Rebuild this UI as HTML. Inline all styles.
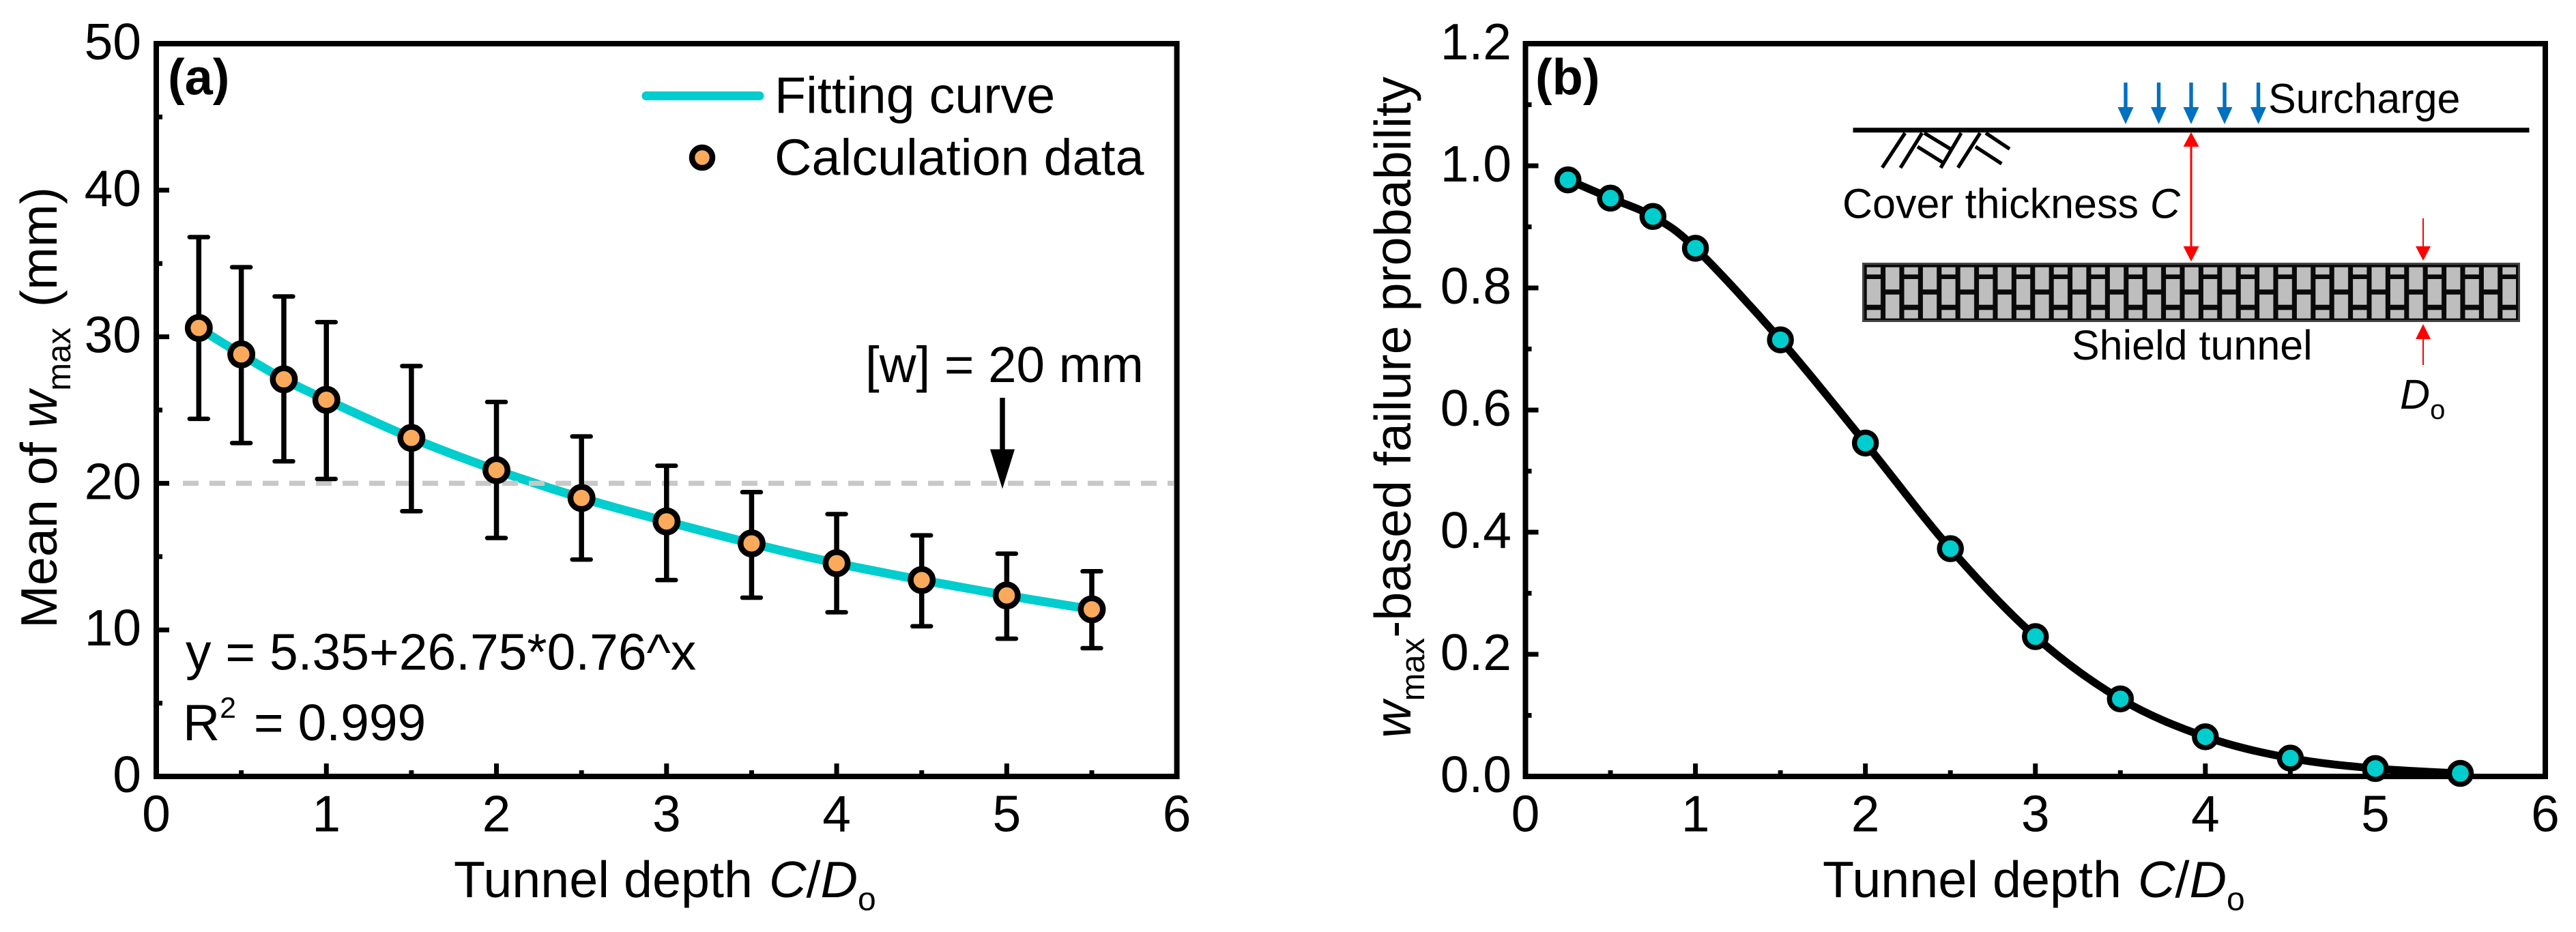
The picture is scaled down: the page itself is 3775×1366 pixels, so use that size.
<!DOCTYPE html>
<html lang="en">
<head>
<meta charset="utf-8">
<title>Tunnel depth charts</title>
<style>
html,body{margin:0;padding:0;background:#fff;}
svg{display:block;}
text{font-family:"Liberation Sans",Arial,sans-serif;font-size:75px;fill:#000;}
</style>
</head>
<body>
<svg id="fig" xmlns="http://www.w3.org/2000/svg" width="3775" height="1366" viewBox="0 0 3775 1366">
  <defs>
    <pattern id="bricks" patternUnits="userSpaceOnUse" x="2735.7" y="0" width="54.8" height="1366">
      <rect x="0" y="391.7" width="20.3" height="10.6" fill="#bebebe"/>
      <rect x="0" y="409" width="20.3" height="37.7" fill="#bebebe"/>
      <rect x="0" y="454.3" width="20.3" height="12.4" fill="#bebebe"/>
      <rect x="27.4" y="391.7" width="20.3" height="32.6" fill="#bebebe"/>
      <rect x="27.4" y="431.7" width="20.3" height="35" fill="#bebebe"/>
    </pattern>
  </defs>
  <rect x="0" y="0" width="3775" height="1366" fill="#fff"/>

  <g id="panel-a"></g>
  <g id="panel-b"></g>

  <!-- Panel a annotations -->
  <text x="246" y="138.5" style="font-size:74px;font-weight:bold">(a)</text>
  <line x1="947" y1="140.5" x2="1113" y2="140.5" stroke="#00cdcd" stroke-width="13" stroke-linecap="round"/>
  <text x="1135" y="165.5" style="font-size:75.5px">Fitting curve</text>
  <circle cx="1029" cy="231" r="15" fill="#faaa5a" stroke="#000" stroke-width="8.5"/>
  <text x="1135" y="256.5" style="font-size:75.5px">Calculation data</text>
  <text x="1268" y="560" style="font-size:74.5px">[w] = 20 mm</text>
  <line x1="1469" y1="583" x2="1469" y2="665" stroke="#000" stroke-width="7.5"/>
  <polygon points="1451,658.5 1487,658.5 1469,716.5" fill="#000"/>
  <text x="272" y="981.5">y = 5.35+26.75*0.76^x</text>
  <text x="268" y="1085">R<tspan dy="-33" style="font-size:43px">2</tspan><tspan dy="33" dx="5"> = 0.999</tspan></text>
  <text x="665" y="1315" style="font-size:75.5px">Tunnel depth <tspan font-style="italic" dx="3">C</tspan>/<tspan font-style="italic">D</tspan><tspan dy="19" style="font-size:48px">o</tspan></text>
  <text transform="translate(83,921) rotate(-90)" style="font-size:75.5px">Mean of <tspan font-style="italic">w</tspan><tspan dy="20" style="font-size:49px">max</tspan><tspan dy="-20" dx="9"> (mm)</tspan></text>

  <!-- Panel b annotations -->
  <text x="2250" y="138.5" style="font-size:74px;font-weight:bold">(b)</text>
  <text x="2671" y="1315" style="font-size:75.5px">Tunnel depth <tspan font-style="italic" dx="3">C</tspan>/<tspan font-style="italic">D</tspan><tspan dy="19" style="font-size:48px">o</tspan></text>
  <text transform="translate(2067,1082) rotate(-90)" style="font-size:75.5px"><tspan font-style="italic">w</tspan><tspan dy="20" style="font-size:49px">max</tspan><tspan dy="-20">-based failure probability</tspan></text>

  <!-- Panel b inset schematic -->
  <g>
    <line x1="2715.5" y1="190.7" x2="3706.5" y2="190.7" stroke="#000" stroke-width="7"/>
    <g stroke="#000" stroke-width="5.3" fill="none">
      <line x1="2791.7" y1="195" x2="2758.3" y2="245.7"/>
      <line x1="2816.7" y1="195" x2="2785" y2="246"/>
      <line x1="2874" y1="195" x2="2844" y2="246"/>
      <line x1="2901.7" y1="195" x2="2869.3" y2="245.7"/>
      <line x1="2820" y1="195" x2="2858.3" y2="218.3"/>
      <line x1="2810" y1="215" x2="2848.3" y2="239"/>
      <line x1="2910" y1="195" x2="2945" y2="218.3"/>
      <line x1="2895" y1="215" x2="2933.3" y2="240"/>
    </g>
    <g fill="#0070c0" stroke="#0070c0">
      <line x1="3115" y1="121" x2="3115" y2="162" stroke-width="5.4"/><polygon points="3103.5,157 3126.5,157 3115,182" stroke="none"/>
      <line x1="3163.5" y1="121" x2="3163.5" y2="162" stroke-width="5.4"/><polygon points="3152,157 3175,157 3163.5,182" stroke="none"/>
      <line x1="3211" y1="121" x2="3211" y2="162" stroke-width="5.4"/><polygon points="3199.5,157 3222.5,157 3211,182" stroke="none"/>
      <line x1="3260" y1="121" x2="3260" y2="162" stroke-width="5.4"/><polygon points="3248.5,157 3271.5,157 3260,182" stroke="none"/>
      <line x1="3309.5" y1="121" x2="3309.5" y2="162" stroke-width="5.4"/><polygon points="3298,157 3321,157 3309.5,182" stroke="none"/>
    </g>
    <text x="3324" y="165.7" style="font-size:61px">Surcharge</text>
    <text x="2700" y="319.7" style="font-size:61px">Cover thickness <tspan font-style="italic">C</tspan></text>
    <g fill="#ff0000" stroke="#ff0000">
      <line x1="3211" y1="205" x2="3211" y2="372" stroke-width="3"/>
      <polygon points="3211,193.8 3222.5,215 3199.5,215" stroke="none"/>
      <polygon points="3211,383.3 3222.5,361 3199.5,361" stroke="none"/>
    </g>
    <rect x="2730.5" y="386.5" width="961" height="84" fill="#0a0a0a" stroke="#444" stroke-width="3"/>
    <rect x="2735" y="391" width="952" height="76" fill="url(#bricks)"/>
    <text x="3036" y="527" style="font-size:61px">Shield tunnel</text>
    <g fill="#ff0000" stroke="#ff0000">
      <line x1="3551" y1="320" x2="3551" y2="370" stroke-width="2"/>
      <polygon points="3551,382 3562,361 3540,361" stroke="none"/>
      <line x1="3551" y1="535" x2="3551" y2="486" stroke-width="2"/>
      <polygon points="3551,475 3562,497 3540,497" stroke="none"/>
    </g>
    <text x="3517" y="599" style="font-size:61px" font-style="italic">D<tspan dy="15" style="font-size:40px;font-style:normal">o</tspan></text>
  </g>
</svg>

<script>
// ---- Panel (a) data ----
var depthValues = [0.25, 0.5, 0.75, 1, 1.5, 2, 2.5, 3, 3.5, 4, 4.5, 5, 5.5];
var meanValues  = [30.6, 28.8, 27.1, 25.7, 23.1, 20.9, 19.0, 17.4, 15.9, 14.55, 13.4, 12.35, 11.4];
var upperValues = [36.8, 34.75, 32.75, 31.0, 28.0, 25.55, 23.2, 21.2, 19.4, 17.9, 16.45, 15.2, 14.0];
var lowerValues = [24.4, 22.75, 21.5, 20.3, 18.1, 16.27, 14.8, 13.4, 12.2, 11.2, 10.25, 9.4, 8.75];
var limitValue = 20;
var xTickLabels = ["0", "1", "2", "3", "4", "5", "6"];
var xMinorTicks = [0.5, 1.5, 2.5, 3.5, 4.5, 5.5];
var yTickLabelsA = ["0", "10", "20", "30", "40", "50"];
var yMinorTicksA = [5, 15, 25, 35, 45];

// ---- Panel (b) data ----
var probabilityValues = [0.977, 0.947, 0.917, 0.865, 0.715, 0.546, 0.373, 0.229, 0.127, 0.065, 0.030, 0.013, 0.005];
var yTickLabelsB = ["0.0", "0.2", "0.4", "0.6", "0.8", "1.0", "1.2"];
var yMinorTicksB = [0.1, 0.3, 0.5, 0.7, 0.9, 1.1];

var NS = 'http://www.w3.org/2000/svg';
var TOP = 64, BOTTOM = 1138;

function node(tag, parent) {
  var el = document.createElementNS(NS, tag);
  parent.appendChild(el);
  return el;
}
function attrs(el, map) {
  for (var k in map) { el.setAttribute(k, map[k]); }
}
function axisX(left, right, max) {
  return function (v) { return left + (right - left) * v / max; };
}
function axisY(max) {
  return function (v) { return BOTTOM - (BOTTOM - TOP) * v / max; };
}
function smoothPath(xs, ys) {
  var d = 'M' + xs[0] + ' ' + ys[0];
  for (var i = 0; i < xs.length - 1; i++) {
    var p0 = Math.max(i - 1, 0), p3 = Math.min(i + 2, xs.length - 1);
    var c1x = xs[i] + (xs[i + 1] - xs[p0]) / 6, c1y = ys[i] + (ys[i + 1] - ys[p0]) / 6;
    var c2x = xs[i + 1] - (xs[p3] - xs[i]) / 6, c2y = ys[i + 1] - (ys[p3] - ys[i]) / 6;
    d += 'C' + c1x + ' ' + c1y + ' ' + c2x + ' ' + c2y + ' ' + xs[i + 1] + ' ' + ys[i + 1];
  }
  return d;
}
function drawFrame(g, left, right, sx, sy, yLabels, yStep, yMinor, labelRight) {
  var i, el;
  for (i = 0; i < yLabels.length; i++) {
    var val = i * yStep;
    if (i > 0 && i < yLabels.length - 1) {
      el = node('line', g);
      
      
      attrs(el, {x1: left, x2: left + 19, y1: sy(val), y2: sy(val), stroke: '#000', 'stroke-width': 7});
    }
    el = node('text', g);
    
    
    attrs(el, {x: labelRight, y: sy(val) + 23, 'text-anchor': 'end'});
    el.textContent = yLabels[i];
  }
  for (i = 0; i < yMinor.length; i++) {
    el = node('line', g);
    
    
    attrs(el, {x1: left, x2: left + 9, y1: sy(yMinor[i]), y2: sy(yMinor[i]), stroke: '#000', 'stroke-width': 7});
  }
  for (i = 0; i < xTickLabels.length; i++) {
    var xv = Number(xTickLabels[i]);
    if (i > 0 && i < xTickLabels.length - 1) {
      el = node('line', g);
      
      
      attrs(el, {x1: sx(xv), x2: sx(xv), y1: BOTTOM, y2: BOTTOM - 19, stroke: '#000', 'stroke-width': 7});
    }
    el = node('text', g);
    
    
    attrs(el, {x: sx(xv), y: 1218.5, 'text-anchor': 'middle'});
    el.textContent = xTickLabels[i];
  }
  for (i = 0; i < xMinorTicks.length; i++) {
    el = node('line', g);
    
    
    attrs(el, {x1: sx(xMinorTicks[i]), x2: sx(xMinorTicks[i]), y1: BOTTOM, y2: BOTTOM - 9, stroke: '#000', 'stroke-width': 7});
  }
  el = node('rect', g);
  
  
  attrs(el, {x: left, y: TOP, width: right - left, height: BOTTOM - TOP, fill: 'none', stroke: '#000', 'stroke-width': 8});
}

// ---- Draw panel (a) ----
(function () {
  var g = document.getElementById('panel-a');
  var sx = axisX(229, 1724.6, 6);
  var sy = axisY(50);
  var el, i;

  el = node('path', g);
  
  
  attrs(el, {d: smoothPath(depthValues.map(sx), meanValues.map(sy)), fill: 'none', stroke: '#00cdcd', 'stroke-width': 13});

  el = node('line', g);
  
  
  attrs(el, {x1: 268, x2: 1720, y1: sy(limitValue), y2: sy(limitValue), stroke: '#c8c8c8', 'stroke-width': 7.5, 'stroke-dasharray': '23 16'});

  for (i = 0; i < depthValues.length; i++) {
    var x = sx(depthValues[i]);
    el = node('line', g);
    
    
    attrs(el, {x1: x, x2: x, y1: sy(upperValues[i]), y2: sy(lowerValues[i]), stroke: '#000', 'stroke-width': 7.5});

    el = node('line', g);
    
    
    attrs(el, {x1: x - 13.5, x2: x + 13.5, y1: sy(upperValues[i]), y2: sy(upperValues[i]), stroke: '#000', 'stroke-width': 6.5, 'stroke-linecap': 'round'});

    el = node('line', g);
    
    
    attrs(el, {x1: x - 13.5, x2: x + 13.5, y1: sy(lowerValues[i]), y2: sy(lowerValues[i]), stroke: '#000', 'stroke-width': 6.5, 'stroke-linecap': 'round'});
  }
  for (i = 0; i < depthValues.length; i++) {
    el = node('circle', g);
    
    
    attrs(el, {cx: sx(depthValues[i]), cy: sy(meanValues[i]), r: 16.2, fill: '#faaa5a', stroke: '#000', 'stroke-width': 8.5});
  }
  drawFrame(g, 229, 1724.6, sx, sy, yTickLabelsA, 10, yMinorTicksA, 207);
})();

// ---- Draw panel (b) ----
(function () {
  var g = document.getElementById('panel-b');
  var sx = axisX(2235.5, 3730, 6);
  var sy = axisY(1.2);
  var el, i;

  el = node('path', g);
  
  
  attrs(el, {d: smoothPath(depthValues.map(sx), probabilityValues.map(sy)), fill: 'none', stroke: '#000', 'stroke-width': 11.5});

  drawFrame(g, 2235.5, 3730, sx, sy, yTickLabelsB, 0.2, yMinorTicksB, 2215);

  for (i = 0; i < depthValues.length; i++) {
    el = node('circle', g);
    
    
    attrs(el, {cx: sx(depthValues[i]), cy: sy(probabilityValues[i]), r: 16, fill: '#00cdcd', stroke: '#000', 'stroke-width': 7.5});
  }
})();
</script>
</body>
</html>
